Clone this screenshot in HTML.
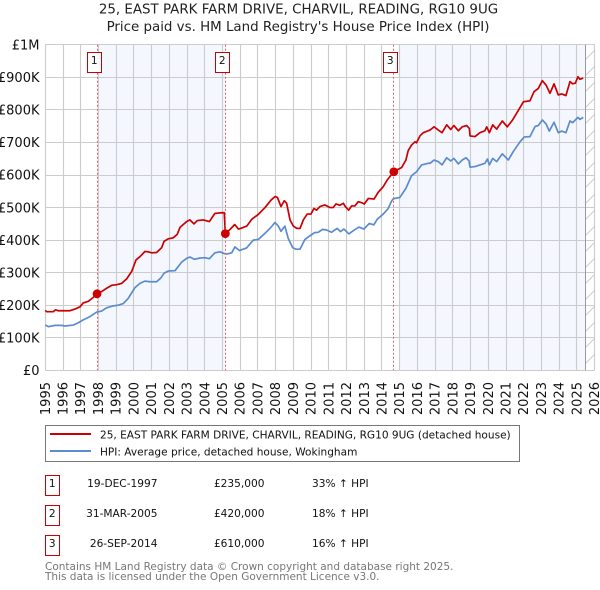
<!DOCTYPE html>
<html lang="en">
<head>
<meta charset="utf-8">
<title>25, EAST PARK FARM DRIVE, CHARVIL, READING, RG10 9UG</title>
<style>
html,body{margin:0;padding:0;background:#fff;}
svg{display:block;font-family:"DejaVu Sans","Liberation Sans",sans-serif;}
</style>
</head>
<body>
<svg id="chart" xmlns="http://www.w3.org/2000/svg" width="600" height="590" viewBox="0 0 600 590">
  <defs>
    <pattern id="hatch" width="16" height="16" patternUnits="userSpaceOnUse" patternTransform="translate(585 44)">
      <line x1="0" y1="16" x2="16" y2="0" stroke="#ccc" stroke-width="1"/>
    </pattern>
  </defs>
  <text x="298.5" y="13.5" font-size="13.4" text-anchor="middle" fill="#222">25, EAST PARK FARM DRIVE, CHARVIL, READING, RG10 9UG</text>
  <text x="298" y="31" font-size="13.4" text-anchor="middle" fill="#222">Price paid vs. HM Land Registry's House Price Index (HPI)</text>
  <g id="bands"></g>
  <g id="grid"></g>
  <g id="series"></g>
  <g id="markers"></g>
  <g id="yticks"></g>
  <g id="xticks"></g>

  <g>
    <rect x="45.5" y="425.5" width="474" height="36" fill="#fff" stroke="#777" stroke-width="1"/>
    <line x1="50" y1="434" x2="91" y2="434" stroke="#cc0000" stroke-width="2"/>
    <text x="100" y="438.5" font-size="10.55" fill="#111">25, EAST PARK FARM DRIVE, CHARVIL, READING, RG10 9UG (detached house)</text>
    <line x1="50" y1="451" x2="91" y2="451" stroke="#5b8bd0" stroke-width="2"/>
    <text x="100" y="455.5" font-size="10.55" fill="#111">HPI: Average price, detached house, Wokingham</text>
  </g>

  <g font-size="10.6" fill="#111">
    <rect x="45.5" y="475.5" width="14" height="20" fill="#fff" stroke="#cc0000"/>
    <text x="52.3" y="487" text-anchor="middle">1</text>
    <text x="157.5" y="487" text-anchor="end">19-DEC-1997</text>
    <text x="264.5" y="487" text-anchor="end">£235,000</text>
    <text x="312" y="487">33% ↑ HPI</text>
    <rect x="45.5" y="505.5" width="14" height="20" fill="#fff" stroke="#cc0000"/>
    <text x="52.3" y="517" text-anchor="middle">2</text>
    <text x="157.5" y="517" text-anchor="end">31-MAR-2005</text>
    <text x="264.5" y="517" text-anchor="end">£420,000</text>
    <text x="312" y="517">18% ↑ HPI</text>
    <rect x="45.5" y="535.5" width="14" height="20" fill="#fff" stroke="#cc0000"/>
    <text x="52.3" y="547" text-anchor="middle">3</text>
    <text x="157.5" y="547" text-anchor="end">26-SEP-2014</text>
    <text x="264.5" y="547" text-anchor="end">£610,000</text>
    <text x="312" y="547">16% ↑ HPI</text>
  </g>

  <text x="45" y="570" font-size="10.5" fill="#777">Contains HM Land Registry data © Crown copyright and database right 2025.</text>
  <text x="45" y="580" font-size="10.5" fill="#777">This data is licensed under the Open Government Licence v3.0.</text>
</svg>
<script>
var priceYears = [1995,1995.08,1995.45,1995.58,1995.73,1996.39,1996.67,1996.96,1997.14,1997.43,1997.71,1997.92,1998.18,1998.46,1998.74,1999.03,1999.31,1999.59,1999.87,2000.12,2000.34,2000.62,2000.81,2001,2001.28,2001.57,2001.7,2001.94,2002.22,2002.45,2002.6,2002.98,2003.16,2003.39,2003.58,2003.92,2004.26,2004.57,2004.95,2005.1,2005.16,2005.43,2005.69,2005.9,2006.08,2006.37,2006.65,2007.02,2007.4,2007.74,2007.97,2008.1,2008.3,2008.49,2008.62,2008.81,2009,2009.19,2009.38,2009.56,2009.78,2009.99,2010.16,2010.31,2010.5,2010.78,2011.06,2011.25,2011.4,2011.63,2011.82,2011.93,2012.12,2012.29,2012.47,2012.66,2012.85,2013,2013.23,2013.55,2013.79,2014.07,2014.3,2014.67,2014.83,2015.11,2015.35,2015.48,2015.67,2015.86,2015.95,2016.14,2016.33,2016.61,2016.71,2016.94,2017.18,2017.39,2017.65,2017.88,2018.06,2018.31,2018.53,2018.78,2018.93,2018.97,2019.25,2019.53,2019.81,2019.91,2020.06,2020.25,2020.47,2020.79,2021.07,2021.37,2021.69,2021.98,2022.35,2022.58,2022.82,2023.05,2023.26,2023.48,2023.71,2023.95,2024.14,2024.38,2024.61,2024.76,2024.91,2025.06,2025.17,2025.36];
var priceValues = [184,180,180,186,183,183,188,195,207,212,224,235,242,252,261,263,267,281,303,339,349,365,364,361,362,377,396,404,407,418,439,457,462,450,460,462,457,482,484,484,420,433,448,434,437,443,464,479,500,523,534,531,503,521,513,462,443,436,436,462,480,480,497,492,503,508,500,500,511,507,513,503,492,505,505,518,515,511,528,526,547,564,585,610,615,623,646,675,692,702,699,720,730,736,738,748,738,730,754,740,752,736,748,752,743,720,718,730,736,748,730,754,741,766,748,769,798,825,828,856,866,890,876,851,880,846,849,844,887,880,882,902,894,898];
var hpiYears = [1995,1995.17,1995.55,1995.92,1996.11,1996.58,1996.86,1997.14,1997.52,1997.9,1998.18,1998.46,1998.84,1999.12,1999.4,1999.68,2000.06,2000.34,2000.62,2000.91,2001.28,2001.51,2001.7,2001.94,2002.32,2002.69,2002.98,2003.16,2003.41,2003.73,2004.01,2004.26,2004.57,2004.86,2005.08,2005.23,2005.52,2005.7,2005.95,2006.36,2006.74,2007.02,2007.4,2007.68,2007.96,2008.15,2008.3,2008.52,2008.71,2008.96,2009.15,2009.37,2009.65,2009.93,2010.2,2010.4,2010.65,2010.87,2011.15,2011.47,2011.66,2011.85,2012.13,2012.38,2012.7,2012.98,2013.28,2013.54,2013.73,2014.07,2014.35,2014.54,2014.64,2015.01,2015.35,2015.67,2015.95,2016.24,2016.61,2016.71,2016.94,2017.18,2017.39,2017.65,2017.88,2018.06,2018.31,2018.53,2018.74,2018.91,2018.97,2019.25,2019.53,2019.81,2019.95,2020.06,2020.25,2020.47,2020.79,2021.13,2021.41,2021.79,2022.03,2022.35,2022.64,2022.82,2023.05,2023.26,2023.44,2023.71,2023.95,2024.14,2024.38,2024.61,2024.76,2025.06,2025.17,2025.36];
var hpiValues = [139,134,138,138,136,139,146,155,165,179,182,192,198,200,205,221,254,267,274,272,272,283,298,305,306,332,344,348,341,345,346,343,361,364,359,357,361,379,368,376,400,402,421,436,454,443,427,443,405,377,372,372,402,413,423,424,433,431,424,436,426,434,419,429,440,434,451,447,464,480,497,520,527,531,559,598,610,631,636,636,646,641,631,653,643,651,634,646,653,644,624,626,631,636,649,631,651,641,665,646,672,702,717,718,749,752,769,757,735,762,730,735,730,766,761,777,771,777];
var saleLabels = ['1','2','3'];
var saleYears = [1997.92,2005.16,2014.67];
var saleValues = [235,420,610];
var yTickValues = [0,100,200,300,400,500,600,700,800,900,1000];
var yTickLabels = ['£0','£100K','£200K','£300K','£400K','£500K','£600K','£700K','£800K','£900K','£1M'];
var xTickYears = [1995,1996,1997,1998,1999,2000,2001,2002,2003,2004,2005,2006,2007,2008,2009,2010,2011,2012,2013,2014,2015,2016,2017,2018,2019,2020,2021,2022,2023,2024,2025,2026];
var bandStarts = [1998,2015];
var bandEnds = [2005.16,2025.5];
var dataEndYear = 2025.5;

var NS = 'http://www.w3.org/2000/svg';
function xScale(year){ return 45.3 + (year - 1995) * 17.72; }
function yScale(value){ return 370.3 - value * 0.3255; }
function snap(v){ return Math.floor(v) + 0.5; }
function make(tag, parentId, props, text){
  var el = document.createElementNS(NS, tag);
  for (var k in props) { el.setAttribute(k, props[k]); }
  if (text !== undefined) { el.textContent = text; }
  document.getElementById(parentId).appendChild(el);
  return el;
}
function pathFrom(xs, ys){
  var d = '';
  for (var i = 0; i < xs.length; i++) {
    d += (i ? 'L' : 'M') + xScale(xs[i]).toFixed(2) + ' ' + yScale(ys[i]).toFixed(2);
  }
  return d;
}

var plotTop = yScale(1000), plotBottom = yScale(0), plotLeft = xScale(1995), plotRight = xScale(2026);

bandStarts.forEach(function(s, i){
  var x0 = xScale(s), x1 = xScale(bandEnds[i]);
  var band = make('rect', 'bands', {x: x0, y: plotTop, width: x1 - x0, height: plotBottom - plotTop, fill: '#f4f7fe'});
  
  
});
var hx = xScale(dataEndYear);
var hatchRect = make('rect', 'bands', {x: hx, y: plotTop, width: plotRight - hx, height: plotBottom - plotTop, fill: 'url(#hatch)'});



yTickValues.forEach(function(v, i){
  var y = snap(yScale(v));
  var gl = make('line', 'grid', {x1: plotLeft, x2: plotRight, y1: y, y2: y, stroke: '#ccc', 'stroke-width': 1.1});
  
  
  var lb = make('text', 'yticks', {x: 39.5, y: yScale(v) + 4.7, 'font-size': 13, 'text-anchor': 'end', fill: '#111'}, yTickLabels[i]);
  
  
});
xTickYears.forEach(function(yr){
  var x = snap(xScale(yr));
  var gl = make('line', 'grid', {x1: x, x2: x, y1: plotTop, y2: plotBottom, stroke: '#ccc', 'stroke-width': 1.1});
  
  
  var cx = xScale(yr) + 4.5;
  var lb = make('text', 'xticks', {x: cx, y: 382, 'font-size': 13, 'text-anchor': 'end', fill: '#111', transform: 'rotate(-90 ' + cx + ' 382)'}, String(yr));
  
  
});
var endLine = make('line', 'grid', {x1: snap(hx), x2: snap(hx), y1: plotTop, y2: plotBottom, stroke: '#999', 'stroke-width': 1});



var hpiLine = make('path', 'series', {d: pathFrom(hpiYears, hpiValues), fill: 'none', stroke: '#5b8bd0', 'stroke-width': 1.7, 'stroke-linejoin': 'round'});


var priceLine = make('path', 'series', {d: pathFrom(priceYears, priceValues), fill: 'none', stroke: '#cc0000', 'stroke-width': 1.7, 'stroke-linejoin': 'round'});



saleYears.forEach(function(yr, i){
  var x = xScale(yr);
  var dash = make('line', 'markers', {x1: snap(x), x2: snap(x), y1: plotTop, y2: plotBottom, stroke: '#e8606a', 'stroke-width': 1, 'stroke-dasharray': '2 2'});
  
  
  var dot = make('circle', 'markers', {cx: x, cy: yScale(saleValues[i]), r: 4.4, fill: '#cc0000'});
  
  
  var box = make('rect', 'markers', {x: Math.floor(x) - 9.5, y: 52.5, width: 14, height: 20, fill: '#fff', stroke: '#cc0000', 'stroke-width': 1});
  
  
  var num = make('text', 'markers', {x: Math.floor(x) - 2.7, y: 64, 'font-size': 10.6, 'text-anchor': 'middle', fill: '#111'}, saleLabels[i]);
  
  
});
</script>
</body>
</html>
